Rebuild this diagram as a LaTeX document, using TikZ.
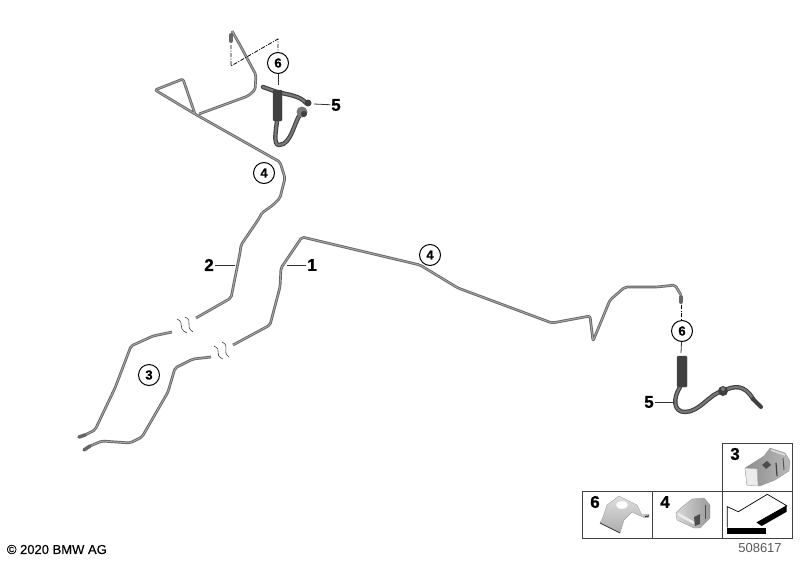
\documentclass[tikz,border=0pt]{standalone}
\usepackage{fontspec}
\setmainfont{Liberation Sans}
\newfontfamily\partfont{Liberation Sans}[BoldFeatures={FakeBold=0.9}]
\newfontfamily\notefont{Liberation Sans}[FakeBold=0.4]
\definecolor{pipedark}{gray}{0.4}
\definecolor{pipelight}{gray}{0.66}
\definecolor{hosedark}{gray}{0.25}
\definecolor{hosemid}{gray}{0.47}
\tikzset{
  pipeline/.style={draw=pipedark,line width=0.9pt,double=pipelight,double distance=0.9pt,line join=round,rounded corners=2pt},
  hoseline/.style={draw=hosedark,line width=1.1pt,double=hosemid,double distance=2.2pt,line join=round,line cap=round},
  sleeveblock/.style={fill=hosedark,draw=black!70,line width=0.3pt,rounded corners=1pt},
  fitblock/.style={draw=pipedark,line width=3.5pt,line cap=round},
  callout/.style={circle,draw=black,line width=1pt,fill=white,minimum size=21pt,inner sep=0pt,font=\partfont\fontsize{13}{13}\selectfont\bfseries},
  partnum/.style={inner sep=0.75pt,font=\partfont\fontsize{17}{17}\selectfont\bfseries},
  leader/.style={draw=black!80,line width=0.8pt},
  dashleader/.style={draw=black,line width=0.8pt,dash pattern=on 4pt off 1.5pt on 1pt off 1.5pt},
  breakwave/.style={draw=black!75,line width=0.6pt},
  tilebox/.style={draw=black!75,line width=0.7pt}
}
\begin{document}
\begin{tikzpicture}[x=1pt,y=1pt,yscale=-1,xscale=1]
    \useasboundingbox (0,0) rectangle (800,560);

    %Straight Lines upper brake pipe
    \draw [pipeline] (232,31) -- (240,45) -- (256,75) -- (255,90) -- (248,96) -- (199,114) ;
    \draw [pipeline] (262,213) -- (273,205) -- (280,198) -- (285,178) -- (280,162) -- (195,114) -- (155,90) -- (183,79) -- (195,114) ;
    \draw [pipeline] (262,213) -- (258,220) -- (241,245) -- (240,253) -- (231,298) -- (196,318) ;
    %Straight Lines long brake pipe
    \draw [pipeline] (233,345) -- (270,325) -- (280,287) -- (281,268) -- (302,237) -- (420,265) -- (458,288) -- (552,323) -- (590,316) -- (593,341) -- (610,300) -- (625,287) -- (657,287) -- (675,285) -- (681,295) ;
    %Straight Lines lower pipes
    \draw [pipeline] (172,332) -- (153,336) -- (131,346) -- (115,388) -- (95,430) -- (85,435) ;
    \draw [pipeline] (211,357) -- (193,359) -- (175,368) -- (168,392) -- (142,437) -- (130,443) -- (102,441) -- (90,446) ;

    %Shape: pipe fittings
    \draw [fitblock] (79,437) -- (85,435) ;
    \draw [fitblock] (84,450) -- (90,446) ;
    \draw [fitblock,line width=4pt] (231,35) -- (231,41) ;
    \draw [fitblock,line width=4pt] (681,297) -- (681,302) ;

    %Shape: break marks
    \draw [breakwave] (177,319) .. controls (186,323) and (176,328) .. (187,333) ;
    \draw [breakwave] (185,317) .. controls (194,321) and (184,326) .. (193,332) ;
    \draw [breakwave] (214,346) .. controls (223,350) and (213,355) .. (223,359) ;
    \draw [breakwave] (222,342) .. controls (231,346) and (221,351) .. (229,357) ;

    %Shape: upper hose
    \draw [hoseline] (263,87) -- (277,92) .. controls (290,95) and (300,96) .. (306,103) ;
    \draw [hoseline] (302,112) .. controls (294,120) and (292,145) .. (279,145) .. controls (273,145) and (276,130) .. (277,121) ;
    \fill [hosedark] (308,103) circle (3.5) ;
    \fill [hosemid] (302,112) circle (5.5) ;
    \fill [hosedark] (304,114) circle (3) ;
    \draw [sleeveblock] (273,90) rectangle (282,121) ;

    %Shape: lower hose
    \draw [hoseline] (680,387) .. controls (673,398) and (673,412) .. (685,412) .. controls (700,412) and (710,393) .. (723,391) .. controls (735,385) and (745,385) .. (753,399) ;
    \fill [hosedark] (723,391) circle (5) ;
    \fill [hosemid] (723,389) circle (2) ;
    \draw [fitblock,draw=hosedark,line width=4pt] (753,399) -- (761,407) ;
    \draw [sleeveblock] (677,356) rectangle (687,387) ;

    %Straight Lines dash leaders
    \draw [dashleader] (231,45) -- (231,66) -- (278,39) -- (278,52) ;
    \draw [dashleader] (681,305) -- (681,320) ;

    % Text Node
    \draw (278,63) node (calloutA) [callout] {6};
    % Text Node
    \draw (682,331) node (calloutB) [callout] {6};
    % Text Node
    \draw (264,173) node (calloutC) [callout] {4};
    % Text Node
    \draw (430,255) node (calloutD) [callout] {4};
    % Text Node
    \draw (149,375) node (calloutE) [callout] {3};
    % Text Node
    \draw (336,105) node (labelA) [partnum] {5};
    % Text Node
    \draw (649,402) node (labelB) [partnum] {5};
    % Text Node
    \draw (312,265) node (labelC) [partnum] {1};
    % Text Node
    \draw (209,265) node (labelD) [partnum] {2};

    \coordinate (sleeveA) at (278,85);
    \coordinate (sleeveB) at (681,353);
    \coordinate (hoseA) at (314,104);
    \coordinate (hoseB) at (673,402);
    \coordinate (pipeA) at (287,265);
    \coordinate (pipeB) at (235,265);
    %Straight Lines leaders
    \draw [leader] (calloutA) -- (sleeveA) ;
    \draw [leader] (calloutB) -- (sleeveB) ;
    \draw [leader] (labelA) -- (hoseA) ;
    \draw [leader] (labelB) -- (hoseB) ;
    \draw [leader] (labelC) -- (pipeA) ;
    \draw [leader] (labelD) -- (pipeB) ;

    %Shape: Rectangle part tiles
    \draw [tilebox] (722,443) rectangle (792,491) ;
    \draw [tilebox] (582,491) rectangle (652,538) ;
    \draw [tilebox] (652,491) rectangle (722,538) ;
    \draw [tilebox] (722,491) rectangle (792,538) ;

    %Shape: clip 3
    \draw [left color=gray!90,right color=gray!55,draw=gray!80,line width=0.4pt] (745,468) -- (764,456) -- (770,448) -- (785,453) -- (790,461) -- (789,471) -- (775,480) -- (760,486) -- (747,485) -- cycle ;
    \fill [gray!15,draw=gray!60,line width=0.4pt] (745,468) -- (757,469) -- (758,486) -- (747,485) -- cycle ;
    \fill [gray!60!black] (762,465) -- (767,461) -- (771,465) -- (766,469) -- cycle ;
    \draw [black!75,line width=1.2pt] (776,463) -- (777,476) ;
    \draw [black!65,line width=1pt] (783,458) -- (784,470) ;
    \draw [gray!25,line width=1.5pt] (771,450) -- (785,455) ;
    % Text Node
    \draw (735,454) node (labelE) [partnum] {3};

    %Shape: clip 6
    \draw [top color=gray!25,bottom color=gray!65,draw=gray!75,line width=0.4pt] (607,505) -- (619,496) -- (637,505) -- (642,515) -- (649,514) -- (649,517) -- (645,518) -- (632,512) -- (624,520) -- (620,533) -- (600,523) -- (603,517) -- cycle ;
    \fill [white] (622,505) ellipse (6 and 3.8) ;
    \draw [gray!45!black,line width=0.7pt] (600,523) -- (620,533) ;
    \draw [gray!50!black,line width=1.2pt] (645,516.5) -- (649,516) ;
    % Text Node
    \draw (595,502) node (labelF) [partnum] {6};

    %Shape: clip 4
    \draw [left color=gray!30,right color=gray!80,draw=gray!75,line width=0.4pt] (682,507) -- (692,499) -- (704,498) -- (710,505) -- (710,518) -- (700,528) -- (694,528) -- (677,520) -- (676,513) -- cycle ;
    \draw [gray!15,line width=2.5pt] (678,514) -- (694,523) ;
    \fill [black!70] (694,517) -- (700,514) -- (700,524) -- (695,526) -- cycle ;
    \draw [black!70,line width=1pt] (705,505) -- (705,519) ;
    % Text Node
    \draw (665,502) node (labelG) [partnum] {4};

    %Shape: arrow tile
    \draw [black,line width=0.7pt,fill=white,line join=miter] (727.3,527.7) -- (727.3,506.7) -- (738.3,511.7) -- (767.3,494.3) -- (786.7,505.7) -- (756.7,522.7) ;
    \fill [black] (786.7,505.7) -- (786.7,511.7) -- (761.7,526) -- (756.7,522.7) -- cycle ;
    \fill [black] (727.3,527.7) rectangle (766,534.3) ;

    % Text Node
    \draw (107,549.5) node (copyNote) [anchor=east,inner sep=0pt,font=\notefont\fontsize{13}{13}\selectfont] {© 2020 BMW AG};
    % Text Node
    \draw (760,548) node (refNum) [inner sep=0pt,text=black!65,font=\fontsize{13}{13}\selectfont] {508617};
\end{tikzpicture}
\end{document}
